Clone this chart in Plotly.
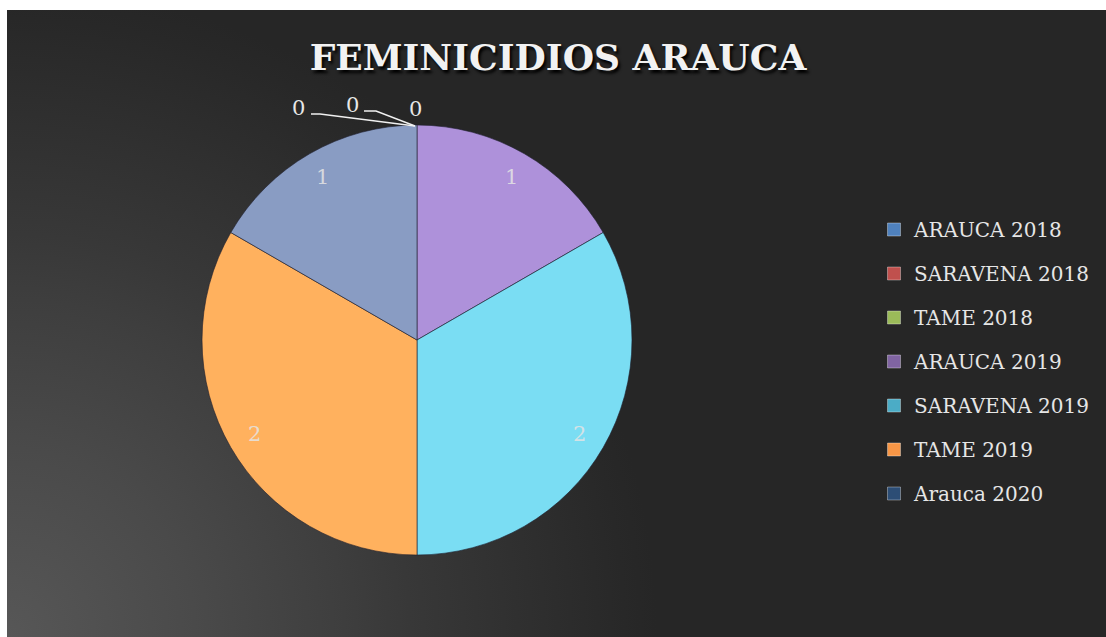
import base64
import math
import plotly.graph_objects as go

# ---------------- data ----------------
categories = ["ARAUCA 2018", "SARAVENA 2018", "TAME 2018", "ARAUCA 2019",
              "SARAVENA 2019", "TAME 2019", "Arauca 2020"]
values = [0, 0, 0, 1, 2, 2, 1]
legend_colors = ["#4F81BD", "#C0504D", "#9BBB59", "#8064A2",
                 "#4BACC6", "#F79646", "#2C4D75"]
slice_colors = ["#4F81BD", "#C0504D", "#9BBB59", "#AE91DA",
                "#7ADDF3", "#FFB15E", "#899CC3"]
title_text = "FEMINICIDIOS ARAUCA"

W, H = 1106, 637

def px(x):
    return x / W

def py(y):
    return 1 - y / H

# ---------------- background (gradient image) ----------------
bw, bh = W - 7, H - 10
svg = f'''<svg xmlns="http://www.w3.org/2000/svg" width="{bw}" height="{bh}" viewBox="0 0 {bw} {bh}">
<defs><radialGradient id="g" gradientUnits="userSpaceOnUse" cx="0" cy="{bh}" r="650">
<stop offset="0" stop-color="#575757"/>
<stop offset="0.29" stop-color="#4a4a4a"/>
<stop offset="0.52" stop-color="#3e3e3e"/>
<stop offset="0.62" stop-color="#383838"/>
<stop offset="0.95" stop-color="#282828"/>
<stop offset="1" stop-color="#262626"/>
</radialGradient></defs>
<rect x="0" y="0" width="{bw}" height="{bh}" fill="url(#g)"/>
</svg>'''
bg_uri = "data:image/svg+xml;base64," + base64.b64encode(svg.encode()).decode()

fig = go.Figure()

# pie centre / radius in pixels
cx, cy, R = 417, 340, 215

fig.add_trace(go.Pie(
    labels=categories,
    values=values,
    sort=False,
    direction="clockwise",
    rotation=0,
    marker=dict(colors=slice_colors, line=dict(color="rgba(30,30,45,0.6)", width=1)),
    textinfo="none",
    domain=dict(x=[px(cx - R), px(cx + R)], y=[py(cy + R), py(cy - R)]),
    showlegend=False,
    hoverinfo="label+value",
))

# value labels of non-zero slices, near the rim at each slice's mid-angle
total = sum(values)
cum = 0
for v in values:
    if v > 0:
        mid = (cum + v / 2) / total * 2 * math.pi
        lx = cx + 0.875 * R * math.sin(mid)
        ly = cy - 0.875 * R * math.cos(mid)
        fig.add_annotation(x=px(lx), y=py(ly), xref="paper", yref="paper",
                           text=str(v), showarrow=False,
                           xanchor="center", yanchor="middle",
                           font=dict(family="DejaVu Serif", size=21,
                                     color="rgba(228,228,228,0.85)"))
    cum += v

# legend built from marker-only traces (one group each, to space entries)
for name, col in zip(categories, legend_colors):
    fig.add_trace(go.Scatter(
        x=[None], y=[None], mode="markers", name=name,
        legendgroup=name,
        marker=dict(symbol="square", size=13, color=col,
                    line=dict(color="rgba(255,255,255,0.35)", width=1)),
        showlegend=True,
    ))

# zero-value labels with leader lines
zero_labels = [v for v in values if v == 0]
zero_pos = [(298, 108), (352, 105), (415, 109)]
for v, (x, y) in zip(zero_labels, zero_pos):
    fig.add_annotation(x=px(x), y=py(y), xref="paper", yref="paper",
                       text=str(v), showarrow=False,
                       xanchor="center", yanchor="middle",
                       font=dict(family="DejaVu Serif", size=21, color="#E8E8E8"))

leaders = [
    [(415, 126), (320, 114), (311, 114)],
    [(415, 126), (376, 111), (364, 111)],
]
for pts in leaders:
    path = "M " + " L ".join(f"{px(x)},{py(y)}" for x, y in pts)
    fig.add_shape(type="path", path=path, xref="paper", yref="paper",
                  line=dict(color="#F0F0F0", width=1.5))

fig.update_layout(
    width=W, height=H,
    margin=dict(l=0, r=0, t=0, b=0),
    paper_bgcolor="white",
    plot_bgcolor="rgba(0,0,0,0)",
    xaxis=dict(visible=False),
    yaxis=dict(visible=False),
    images=[dict(source=bg_uri, xref="paper", yref="paper",
                 x=px(7), y=1 - 10 / H, sizex=1 - 7 / W, sizey=1 - 10 / H,
                 xanchor="left", yanchor="top", sizing="stretch", layer="below")],
    title=dict(text=f"<b>{title_text}</b>", x=px(558), y=py(57),
               xanchor="center", yanchor="middle",
               font=dict(family="DejaVu Serif", size=36, color="#F2F2F2",
                         shadow="2px 3px 3px #000000")),
    legend=dict(x=px(874), y=py(210), xanchor="left", yanchor="top",
                bgcolor="rgba(0,0,0,0)", tracegroupgap=15,
                font=dict(family="DejaVu Serif", size=20, color="#E6E6E6"),
                itemclick=False, itemdoubleclick=False),
)

fig.write_html("out.html", config={"displayModeBar": False},
               post_script="document.body.style.margin='0';")
